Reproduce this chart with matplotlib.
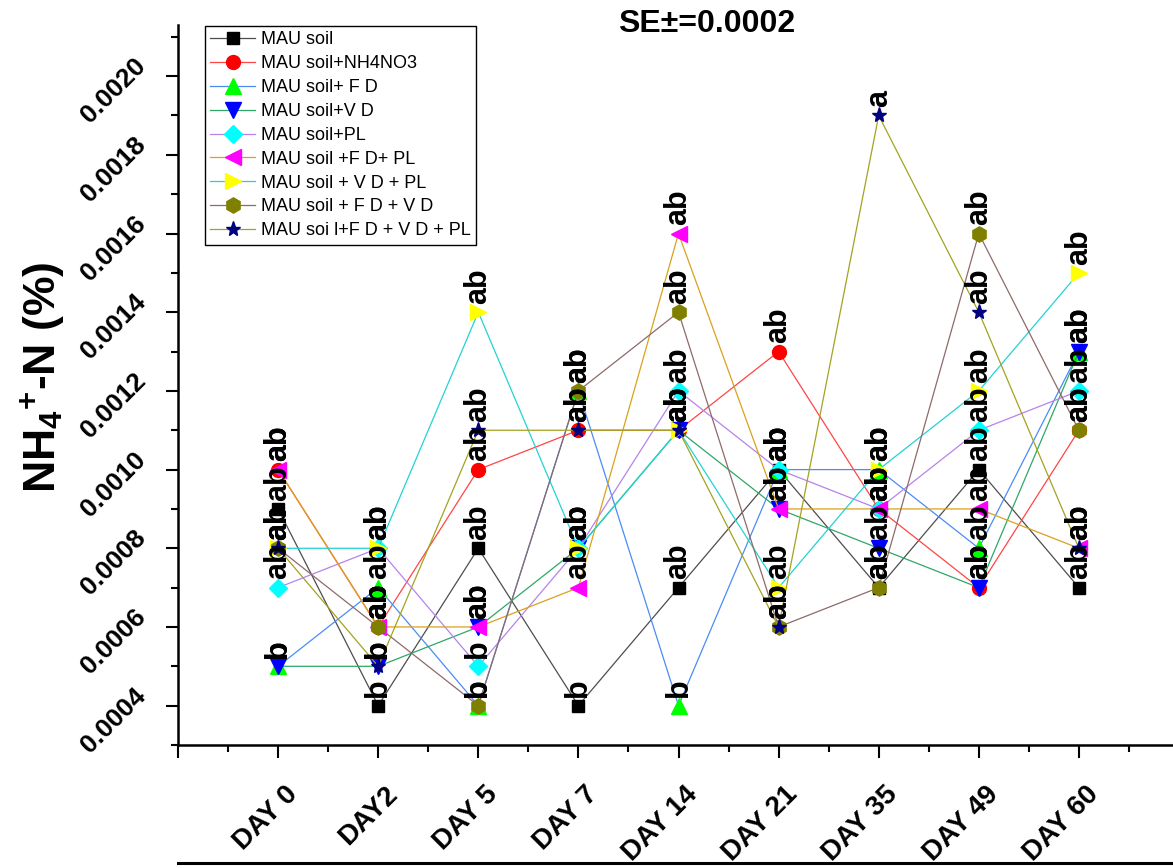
import matplotlib
matplotlib.use("Agg")
import matplotlib.pyplot as plt
from matplotlib.lines import Line2D
from matplotlib.ticker import FixedLocator, MultipleLocator, FormatStrFormatter
from matplotlib.transforms import ScaledTranslation

plt.rcParams["font.family"] = ["Liberation Sans", "DejaVu Sans"]
plt.rcParams["mathtext.fontset"] = "custom"
plt.rcParams["mathtext.rm"] = "Liberation Sans:bold"
plt.rcParams["mathtext.bf"] = "Liberation Sans:bold"
plt.rcParams["mathtext.default"] = "bf"

DAYS = ["DAY 0", "DAY2", "DAY 5", "DAY 7", "DAY 14", "DAY 21", "DAY 35", "DAY 49", "DAY 60"]

NAMES = ["MAU soil", "MAU soil+NH4NO3", "MAU soil+ F D", "MAU soil+V D", "MAU soil+PL",
         "MAU soil +F D+ PL", "MAU soil + V D + PL", "MAU soil + F D + V D",
         "MAU soi l+F D + V D + PL"]

# NH4+-N (%) por tratamiento
mau_soil = [0.0009, 0.0004, 0.0008, 0.0004, 0.0007, 0.0010, 0.0007, 0.0010, 0.0007]
mau_nh4no3 = [0.0010, 0.0006, 0.0010, 0.0011, 0.0011, 0.0013, 0.0009, 0.0007, 0.0011]
mau_fd = [0.0005, 0.0007, 0.0004, 0.0012, 0.0004, 0.0010, 0.0010, 0.0008, 0.0013]
mau_vd = [0.0005, 0.0005, 0.0006, 0.0008, 0.0011, 0.0009, 0.0008, 0.0007, 0.0013]
mau_pl = [0.0007, 0.0008, 0.0005, 0.0008, 0.0012, 0.0010, 0.0009, 0.0011, 0.0012]
mau_fd_pl = [0.0010, 0.0006, 0.0006, 0.0007, 0.0016, 0.0009, 0.0009, 0.0009, 0.0008]
mau_vd_pl = [0.0008, 0.0008, 0.0014, 0.0008, 0.0011, 0.0007, 0.0010, 0.0012, 0.0015]
mau_fd_vd = [0.0008, 0.0006, 0.0004, 0.0012, 0.0014, 0.0006, 0.0007, 0.0016, 0.0011]
mau_fd_vd_pl = [0.0008, 0.0005, 0.0011, 0.0011, 0.0011, 0.0006, 0.0019, 0.0014, 0.0008]

# letras de significancia
let_soil = ["ab", "b", "ab", "b", "ab", "ab", "ab", "ab", "ab"]
let_nh4no3 = ["ab", "ab", "ab", "ab", "ab", "ab", "ab", "ab", "ab"]
let_fd = ["b", "ab", "b", "ab", "b", "ab", "ab", "ab", "ab"]
let_vd = ["b", "b", "ab", "ab", "ab", "ab", "ab", "ab", "ab"]
let_pl = ["ab", "ab", "b", "ab", "ab", "ab", "ab", "ab", "ab"]
let_fd_pl = ["ab", "ab", "ab", "ab", "ab", "ab", "ab", "ab", "ab"]
let_vd_pl = ["ab", "ab", "ab", "ab", "ab", "ab", "ab", "ab", "ab"]
let_fd_vd = ["ab", "ab", "b", "ab", "ab", "ab", "ab", "ab", "ab"]
let_fd_vd_pl = ["ab", "b", "ab", "ab", "ab", "ab", "a", "ab", "ab"]

VALUES = [mau_soil, mau_nh4no3, mau_fd, mau_vd, mau_pl, mau_fd_pl, mau_vd_pl, mau_fd_vd, mau_fd_vd_pl]
LETTERS = [let_soil, let_nh4no3, let_fd, let_vd, let_pl, let_fd_pl, let_vd_pl, let_fd_vd, let_fd_vd_pl]

LINE_COLORS = ["#4d4d4d", "#ff4545", "#4a8cf7", "#2ea867", "#b683ec",
               "#d9a21c", "#22d3d3", "#8e6a6a", "#a3a321"]
FACE_COLORS = ["#000000", "#ff0000", "#00ff00", "#0000ff", "#00ffff",
               "#ff00ff", "#ffff00", "#808000", "#000080"]
MARKERS = ["s", "o", "^", "v", "D", "<", ">", "h", "*"]
MSIZES = [8.5, 10, 11, 11, 9, 11, 11, 11, 11]

fig = plt.figure(figsize=(11.73, 8.68), dpi=100)
ax = fig.add_axes([178 / 1173, 123 / 868, 995 / 1173, 720 / 868])

x = list(range(len(DAYS)))
for vals, lets, name, lc, fc, mk, ms in zip(VALUES, LETTERS, NAMES, LINE_COLORS,
                                             FACE_COLORS, MARKERS, MSIZES):
    ax.plot(x, vals, color=lc, lw=0.9, marker=mk, markersize=ms,
            markerfacecolor=fc, markeredgecolor=fc, label=name)
    for xi, v, t in zip(x, vals, lets):
        ax.annotate(t, (xi, v), xytext=(0, 6), textcoords="offset points",
                    rotation=90, ha="center", va="bottom", fontsize=22,
                    fontweight="bold", color="black", zorder=6)

ax.set_xlim(-1, 8.94)
ax.set_ylim(0.0003, 0.00213)

ax.xaxis.set_major_locator(FixedLocator(range(-1, 9)))
ax.xaxis.set_minor_locator(MultipleLocator(0.5))
ax.set_xticklabels([""] + DAYS, rotation=45, ha="right", va="top",
                   rotation_mode="anchor", fontsize=20, fontweight="bold")
ax.yaxis.set_major_locator(MultipleLocator(0.0002))
ax.yaxis.set_minor_locator(MultipleLocator(0.0001))
ax.yaxis.set_major_formatter(FormatStrFormatter("%.4f"))

ax.tick_params(axis="y", which="major", direction="out", length=9, width=1.5, pad=17)
ax.tick_params(axis="y", which="minor", direction="out", length=5, width=1.5)
ax.tick_params(axis="x", which="major", direction="out", length=9, width=1.5, pad=15)
ax.tick_params(axis="x", which="minor", direction="out", length=5, width=1.5)

ax.spines["top"].set_visible(False)
ax.spines["right"].set_visible(False)
ax.spines["left"].set_linewidth(1.8)
ax.spines["bottom"].set_linewidth(1.8)

ax.set_ylabel(r"NH$_{4}$$^{+}$-N (%)", fontsize=32, fontweight="bold")
ax.yaxis.set_label_coords(-0.112, 0.51)

fig.text(707 / 1173, 1 - 24 / 868, "SE±=0.0002", fontsize=23, fontweight="bold",
         ha="center", va="center")

leg = ax.legend(loc="upper left", bbox_to_anchor=(0.027, 0.9986), borderaxespad=0,
                fontsize=13, frameon=True, fancybox=False, framealpha=1,
                edgecolor="black", labelspacing=0.38, handlelength=2.5,
                handletextpad=0.3, borderpad=0.3)
leg.get_frame().set_linewidth(1.0)

fig.add_artist(Line2D([178 / 1173, 1.0], [1 - 863 / 868] * 2, color="black", lw=2.2,
                      transform=fig.transFigure))

# ticks ya creados: ahora sí se pueden desplazar las etiquetas
fig.canvas.draw()
for lbl in ax.get_yticklabels():
    lbl.set_rotation(45)
    lbl.set_rotation_mode("anchor")
    lbl.set_ha("right")
    lbl.set_va("center")
    lbl.set_fontsize(19)
    lbl.set_fontweight("bold")
    lbl.set_transform(lbl.get_transform() + ScaledTranslation(0, 10 / 72, fig.dpi_scale_trans))
for lbl in ax.get_xticklabels():
    lbl.set_transform(lbl.get_transform() + ScaledTranslation(4.5 / 72, -2 / 72, fig.dpi_scale_trans))

fig.savefig("out.png", dpi=100)
